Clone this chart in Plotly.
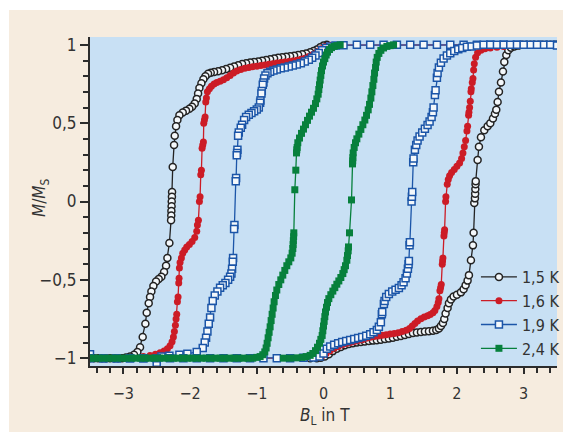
import plotly.graph_objects as go

# ---------------- tick labels ----------------
field_ticks = [-3, -2, -1, 0, 1, 2, 3]
field_tick_text = ["−3", "−2", "−1", "0", "1", "2", "3"]
m_ticks = [-1, -0.5, 0, 0.5, 1]
m_tick_text = ["−1", "−0,5", "0", "0,5", "1"]

temperatures = ["1,5 K", "1,6 K", "1,9 K", "2,4 K"]

# ---------------- data: (B in T, M/Ms) ----------------
# 1,5 K
down_15 = [(0.05, 1.0), (0.0, 0.995), (-0.05, 0.985), (-0.1, 0.97), (-0.15, 0.96), (-0.2, 0.952),
           (-0.26, 0.945), (-0.32, 0.94), (-0.38, 0.935), (-0.44, 0.93), (-0.5, 0.927), (-0.56, 0.924),
           (-0.62, 0.921), (-0.68, 0.918), (-0.74, 0.913), (-0.8, 0.908), (-0.86, 0.903), (-0.92, 0.898),
           (-0.98, 0.894), (-1.04, 0.89), (-1.1, 0.887), (-1.16, 0.883), (-1.22, 0.877), (-1.28, 0.87),
           (-1.34, 0.862), (-1.4, 0.853), (-1.46, 0.845), (-1.52, 0.838), (-1.58, 0.832), (-1.64, 0.827),
           (-1.69, 0.822), (-1.73, 0.815), (-1.77, 0.80), (-1.8, 0.78), (-1.83, 0.755), (-1.86, 0.725),
           (-1.88, 0.69), (-1.9, 0.655), (-1.93, 0.625), (-1.97, 0.605), (-2.01, 0.592), (-2.06, 0.58),
           (-2.11, 0.568), (-2.16, 0.55), (-2.19, 0.52), (-2.21, 0.48), (-2.23, 0.42), (-2.24, 0.36),
           (-2.26, 0.22), (-2.27, 0.06), (-2.272, 0.03), (-2.275, 0.0), (-2.277, -0.03), (-2.28, -0.06),
           (-2.282, -0.09), (-2.285, -0.12), (-2.31, -0.265), (-2.34, -0.36), (-2.36, -0.41),
           (-2.39, -0.45), (-2.43, -0.48), (-2.47, -0.495), (-2.51, -0.51), (-2.55, -0.54),
           (-2.58, -0.575), (-2.6, -0.61), (-2.62, -0.65), (-2.65, -0.71), (-2.67, -0.78),
           (-2.71, -0.865), (-2.75, -0.93), (-2.79, -0.96), (-2.84, -0.978), (-2.9, -0.99),
           (-2.96, -0.995), (-3.02, -1.0), (-3.08, -1.0), (-3.14, -1.0), (-3.2, -1.0), (-3.26, -1.0),
           (-3.32, -1.0), (-3.38, -1.0), (-3.44, -1.0), (-3.5, -1.0)]
up_15 = [(-0.2, -1.0), (-0.1, -1.0), (-0.04, -0.998), (0.02, -0.99), (0.08, -0.975), (0.14, -0.955),
         (0.2, -0.94), (0.26, -0.928), (0.32, -0.918), (0.38, -0.91), (0.44, -0.905), (0.5, -0.9),
         (0.56, -0.897), (0.62, -0.894), (0.68, -0.891), (0.74, -0.888), (0.8, -0.885), (0.86, -0.882),
         (0.92, -0.878), (0.98, -0.874), (1.04, -0.869), (1.1, -0.864), (1.16, -0.858), (1.22, -0.852),
         (1.28, -0.846), (1.34, -0.84), (1.4, -0.836), (1.46, -0.833), (1.52, -0.83), (1.58, -0.828),
         (1.64, -0.825), (1.69, -0.82), (1.73, -0.81), (1.76, -0.795), (1.79, -0.775), (1.81, -0.75),
         (1.83, -0.715), (1.86, -0.68), (1.88, -0.65), (1.91, -0.625), (1.95, -0.607), (2.0, -0.595),
         (2.06, -0.58), (2.1, -0.56), (2.13, -0.535), (2.16, -0.505), (2.18, -0.47), (2.21, -0.375),
         (2.24, -0.28), (2.25, -0.2), (2.26, -0.01), (2.27, 0.02), (2.273, 0.05), (2.276, 0.08),
         (2.279, 0.11), (2.282, 0.13), (2.31, 0.265), (2.33, 0.35), (2.36, 0.41), (2.41, 0.455),
         (2.46, 0.48), (2.5, 0.5), (2.54, 0.53), (2.57, 0.56), (2.59, 0.585), (2.61, 0.635),
         (2.63, 0.7), (2.66, 0.76), (2.69, 0.83), (2.71, 0.89), (2.74, 0.935), (2.77, 0.965),
         (2.81, 0.982), (2.86, 0.99), (2.92, 0.995), (2.98, 1.0), (3.04, 1.0), (3.1, 1.0), (3.16, 1.0),
         (3.22, 1.0), (3.28, 1.0), (3.34, 1.0), (3.4, 1.0), (3.46, 1.0), (3.5, 1.0)]

# 1,6 K
down_16 = [(3.5, 1.0), (3.3, 1.0), (3.1, 1.0), (2.9, 1.0), (2.7, 1.0), (2.5, 1.0), (2.3, 1.0), (2.1, 1.0),
           (1.9, 1.0), (1.7, 1.0), (1.5, 1.0), (1.3, 1.0), (1.1, 1.0), (0.9, 1.0), (0.7, 1.0), (0.5, 1.0),
           (0.3, 1.0), (0.1, 0.998), (0.02, 0.99), (-0.04, 0.975), (-0.1, 0.955), (-0.16, 0.938),
           (-0.22, 0.925), (-0.28, 0.915), (-0.34, 0.908), (-0.4, 0.902), (-0.46, 0.897), (-0.52, 0.893),
           (-0.58, 0.89), (-0.64, 0.887), (-0.7, 0.884), (-0.76, 0.88), (-0.82, 0.876), (-0.88, 0.872),
           (-0.94, 0.868), (-1.0, 0.864), (-1.06, 0.86), (-1.12, 0.855), (-1.18, 0.85), (-1.24, 0.843),
           (-1.3, 0.833), (-1.35, 0.82), (-1.4, 0.805), (-1.45, 0.79), (-1.5, 0.777), (-1.55, 0.768),
           (-1.6, 0.76), (-1.64, 0.75), (-1.68, 0.735), (-1.71, 0.72), (-1.74, 0.70), (-1.755, 0.66),
           (-1.765, 0.635), (-1.775, 0.54), (-1.785, 0.52), (-1.795, 0.50), (-1.8, 0.38), (-1.81, 0.36),
           (-1.82, 0.34), (-1.83, 0.2), (-1.84, 0.17), (-1.85, 0.03), (-1.86, 0.0), (-1.875, -0.12),
           (-1.89, -0.15), (-1.9, -0.19), (-1.93, -0.23), (-1.97, -0.255), (-2.01, -0.275),
           (-2.05, -0.29), (-2.08, -0.31), (-2.11, -0.33), (-2.13, -0.36), (-2.15, -0.39),
           (-2.16, -0.425), (-2.165, -0.49), (-2.17, -0.52), (-2.18, -0.61), (-2.19, -0.64),
           (-2.2, -0.72), (-2.21, -0.75), (-2.22, -0.79), (-2.235, -0.83), (-2.25, -0.865),
           (-2.27, -0.895), (-2.3, -0.92), (-2.34, -0.94), (-2.39, -0.955), (-2.45, -0.965),
           (-2.52, -0.975), (-2.6, -0.983), (-2.7, -0.99), (-2.9, -1.0), (-3.1, -1.0), (-3.3, -1.0),
           (-3.5, -1.0)]
up_16 = [(-3.5, -1.0), (-3.3, -1.0), (-3.1, -1.0), (-2.9, -1.0), (-2.7, -1.0), (-2.5, -1.0), (-2.3, -1.0),
         (-2.1, -1.0), (-1.9, -1.0), (-1.7, -1.0), (-1.5, -1.0), (-1.3, -1.0), (-1.1, -1.0), (-0.9, -1.0),
         (-0.7, -1.0), (-0.5, -1.0), (-0.3, -1.0), (-0.1, -0.995), (-0.02, -0.985), (0.04, -0.97),
         (0.1, -0.952), (0.16, -0.937), (0.22, -0.925), (0.28, -0.914), (0.34, -0.906), (0.4, -0.9),
         (0.46, -0.894), (0.52, -0.888), (0.58, -0.882), (0.64, -0.873), (0.7, -0.866), (0.76, -0.862),
         (0.82, -0.858), (0.88, -0.854), (0.94, -0.85), (1.0, -0.846), (1.06, -0.842), (1.12, -0.837),
         (1.18, -0.83), (1.24, -0.822), (1.29, -0.81), (1.33, -0.795), (1.37, -0.778), (1.41, -0.762),
         (1.46, -0.748), (1.51, -0.738), (1.56, -0.73), (1.6, -0.722), (1.64, -0.71), (1.67, -0.695),
         (1.7, -0.67), (1.72, -0.645), (1.73, -0.62), (1.745, -0.57), (1.755, -0.55), (1.765, -0.53),
         (1.78, -0.4), (1.785, -0.38), (1.79, -0.36), (1.805, -0.22), (1.81, -0.2), (1.815, -0.18),
         (1.83, 0.0), (1.835, 0.03), (1.855, 0.11), (1.87, 0.14), (1.89, 0.165), (1.92, 0.185),
         (1.96, 0.205), (2.0, 0.225), (2.04, 0.245), (2.07, 0.275), (2.09, 0.31), (2.11, 0.35),
         (2.13, 0.39), (2.15, 0.45), (2.16, 0.48), (2.175, 0.55), (2.18, 0.57), (2.19, 0.6),
         (2.2, 0.64), (2.21, 0.7), (2.215, 0.72), (2.23, 0.76), (2.24, 0.785), (2.25, 0.84),
         (2.26, 0.88), (2.28, 0.92), (2.31, 0.95), (2.36, 0.965), (2.42, 0.975), (2.5, 0.98),
         (2.6, 0.985), (2.7, 0.99), (2.9, 1.0), (3.1, 1.0), (3.3, 1.0), (3.5, 1.0)]

# 1,9 K
down_19 = [(3.5, 1.0), (3.3, 1.0), (3.1, 1.0), (2.9, 1.0), (2.7, 1.0), (2.5, 1.0), (2.3, 1.0), (2.1, 1.0),
           (1.9, 1.0), (1.7, 1.0), (1.5, 1.0), (1.3, 1.0), (1.1, 1.0), (0.9, 1.0), (0.7, 1.0), (0.5, 1.0),
           (0.3, 0.998), (0.18, 0.995), (0.1, 0.99), (0.04, 0.98), (-0.02, 0.965), (-0.07, 0.948),
           (-0.12, 0.932), (-0.17, 0.918), (-0.22, 0.905), (-0.28, 0.893), (-0.34, 0.883), (-0.4, 0.875),
           (-0.46, 0.868), (-0.52, 0.862), (-0.58, 0.856), (-0.64, 0.85), (-0.7, 0.843), (-0.75, 0.836),
           (-0.8, 0.828), (-0.84, 0.818), (-0.87, 0.805), (-0.89, 0.785), (-0.9, 0.76), (-0.91, 0.745),
           (-0.925, 0.705), (-0.93, 0.69), (-0.945, 0.645), (-0.95, 0.63), (-0.97, 0.6), (-1.0, 0.587),
           (-1.04, 0.576), (-1.08, 0.565), (-1.12, 0.553), (-1.16, 0.54), (-1.19, 0.52), (-1.22, 0.49),
           (-1.24, 0.47), (-1.27, 0.44), (-1.28, 0.42), (-1.29, 0.33), (-1.295, 0.31), (-1.3, 0.295),
           (-1.31, 0.15), (-1.315, 0.13), (-1.335, -0.15), (-1.34, -0.175), (-1.355, -0.36),
           (-1.36, -0.385), (-1.37, -0.43), (-1.38, -0.46), (-1.4, -0.48), (-1.43, -0.5), (-1.47, -0.52),
           (-1.51, -0.535), (-1.55, -0.55), (-1.59, -0.575), (-1.63, -0.6), (-1.66, -0.635),
           (-1.68, -0.68), (-1.7, -0.74), (-1.72, -0.78), (-1.74, -0.83), (-1.76, -0.87), (-1.78, -0.9),
           (-1.81, -0.935), (-1.9, -0.96), (-2.04, -0.972), (-2.16, -0.978), (-2.31, -0.985),
           (-2.43, -0.99), (-2.5, -1.03), (-2.7, -1.0), (-2.9, -1.0), (-3.1, -1.0), (-3.3, -1.0),
           (-3.5, -0.975)]
up_19 = [(-3.5, -1.0), (-3.3, -1.0), (-3.1, -1.0), (-2.9, -1.0), (-2.7, -1.0), (-2.5, -1.0), (-2.3, -1.0),
         (-2.1, -1.0), (-1.9, -1.0), (-1.7, -1.0), (-1.5, -1.0), (-1.3, -1.0), (-1.1, -1.0), (-0.9, -1.0),
         (-0.7, -1.0), (-0.5, -1.0), (-0.3, -0.998), (-0.15, -0.995), (-0.06, -0.99), (0.0, -0.97),
         (0.05, -0.94), (0.1, -0.925), (0.16, -0.915), (0.22, -0.905), (0.28, -0.897), (0.34, -0.89),
         (0.4, -0.884), (0.46, -0.878), (0.52, -0.872), (0.58, -0.865), (0.64, -0.857), (0.7, -0.847),
         (0.75, -0.835), (0.8, -0.82), (0.83, -0.8), (0.86, -0.77), (0.875, -0.72), (0.88, -0.705),
         (0.905, -0.655), (0.915, -0.635), (0.94, -0.61), (0.98, -0.59), (1.03, -0.575), (1.08, -0.563),
         (1.13, -0.552), (1.17, -0.535), (1.2, -0.515), (1.23, -0.49), (1.25, -0.46), (1.265, -0.43),
         (1.275, -0.4), (1.28, -0.38), (1.29, -0.28), (1.295, -0.26), (1.32, 0.0), (1.325, 0.03),
         (1.33, 0.06), (1.345, 0.25), (1.35, 0.275), (1.37, 0.33), (1.39, 0.36), (1.41, 0.39),
         (1.44, 0.415), (1.48, 0.44), (1.52, 0.465), (1.56, 0.488), (1.59, 0.51), (1.62, 0.54),
         (1.64, 0.57), (1.65, 0.6), (1.67, 0.68), (1.68, 0.71), (1.7, 0.79), (1.71, 0.82),
         (1.73, 0.855), (1.76, 0.885), (1.8, 0.912), (1.85, 0.932), (1.9, 0.946), (1.96, 0.96),
         (2.02, 0.972), (2.08, 0.98), (2.15, 0.987), (2.22, 0.99), (2.3, 0.995), (2.4, 1.0),
         (2.5, 1.0), (2.6, 1.0), (2.7, 1.0), (2.8, 1.0), (2.9, 1.0), (3.0, 1.0), (3.2, 1.0),
         (3.4, 1.0), (3.5, 0.995)]

# 2,4 K
down_24 = [(0.25, 1.0), (0.2, 0.995), (0.16, 0.99), (0.12, 0.982), (0.09, 0.97), (0.06, 0.953),
           (0.04, 0.935), (0.02, 0.912), (0.0, 0.89), (-0.015, 0.865), (-0.03, 0.835), (-0.04, 0.805),
           (-0.05, 0.775), (-0.06, 0.745), (-0.07, 0.715), (-0.08, 0.685), (-0.1, 0.655), (-0.12, 0.625),
           (-0.15, 0.595), (-0.18, 0.57), (-0.21, 0.545), (-0.24, 0.518), (-0.27, 0.49), (-0.3, 0.462),
           (-0.33, 0.435), (-0.36, 0.405), (-0.385, 0.375), (-0.395, 0.345), (-0.4, 0.33),
           (-0.405, 0.31), (-0.415, 0.2), (-0.43, 0.075), (-0.445, -0.2), (-0.448, -0.225),
           (-0.452, -0.25), (-0.455, -0.275), (-0.46, -0.3), (-0.47, -0.33), (-0.49, -0.36),
           (-0.52, -0.385), (-0.55, -0.41), (-0.58, -0.44), (-0.61, -0.47), (-0.64, -0.5),
           (-0.67, -0.53), (-0.7, -0.565), (-0.72, -0.6), (-0.74, -0.64), (-0.755, -0.68),
           (-0.77, -0.72), (-0.785, -0.76), (-0.8, -0.8), (-0.815, -0.835), (-0.83, -0.87),
           (-0.845, -0.905), (-0.86, -0.935), (-0.88, -0.96), (-0.91, -0.978), (-0.95, -0.99),
           (-1.0, -0.995), (-1.06, -1.0), (-1.13, -1.0), (-1.2, -1.0), (-1.27, -1.0), (-1.34, -1.0),
           (-1.41, -1.0), (-1.48, -1.0), (-1.55, -1.0), (-1.62, -1.0), (-1.69, -1.0), (-1.76, -1.0),
           (-1.83, -1.0), (-1.9, -1.0), (-1.97, -1.0), (-2.04, -1.0), (-2.11, -1.0), (-2.18, -1.0),
           (-2.25, -1.0), (-2.32, -1.0), (-2.39, -1.0), (-2.46, -1.0), (-2.53, -1.0), (-2.6, -1.0),
           (-2.67, -1.0), (-2.74, -1.0), (-2.81, -1.0), (-2.88, -1.0), (-2.95, -1.0), (-3.02, -1.0),
           (-3.09, -1.0), (-3.16, -1.0), (-3.23, -1.0), (-3.3, -1.0), (-3.37, -1.0), (-3.44, -1.0),
           (-3.5, -1.0)]
up_24 = [(-0.6, -1.0), (-0.5, -1.0), (-0.4, -0.998), (-0.32, -0.995), (-0.26, -0.99), (-0.2, -0.982),
         (-0.16, -0.97), (-0.12, -0.952), (-0.09, -0.93), (-0.06, -0.905), (-0.04, -0.88),
         (-0.02, -0.855), (-0.01, -0.825), (0.0, -0.795), (0.01, -0.765), (0.02, -0.735),
         (0.03, -0.705), (0.045, -0.675), (0.06, -0.645), (0.08, -0.62), (0.11, -0.595),
         (0.14, -0.572), (0.17, -0.55), (0.2, -0.528), (0.23, -0.507), (0.26, -0.485), (0.29, -0.46),
         (0.31, -0.435), (0.33, -0.41), (0.35, -0.375), (0.36, -0.345), (0.37, -0.315),
         (0.375, -0.29), (0.39, -0.2), (0.42, 0.01), (0.435, 0.24), (0.438, 0.26), (0.44, 0.28),
         (0.445, 0.31), (0.46, 0.345), (0.48, 0.375), (0.5, 0.4), (0.53, 0.43), (0.56, 0.46),
         (0.59, 0.49), (0.62, 0.52), (0.645, 0.55), (0.67, 0.585), (0.69, 0.62), (0.71, 0.66),
         (0.725, 0.7), (0.74, 0.74), (0.755, 0.78), (0.765, 0.82), (0.78, 0.855), (0.79, 0.89),
         (0.805, 0.92), (0.83, 0.945), (0.86, 0.965), (0.9, 0.98), (0.95, 0.99), (1.0, 0.995),
         (1.05, 1.0)]

branches = [(down_15, up_15), (down_16, up_16), (down_19, up_19), (down_24, up_24)]

x_title = "<i>B</i><sub>L</sub> in T"
y_title = "<i>M</i>/<i>M</i><sub>S</sub>"

# ---------------- styles ----------------
line_colors = ["#232323", "#cc1c26", "#1b55a8", "#07803c"]
marker_symbols = ["circle", "circle", "square", "square"]
marker_fills = ["#f4f8fb", "#cc1c26", "#f4f8fb", "#07803c"]
marker_sizes = [7, 7, 7, 7]
marker_line_widths = [1.5, 0, 1.5, 0]

FONT = "Liberation Sans Narrow, DejaVu Sans Condensed, Arial Narrow, sans-serif"
AXIS_COLOR = "#2c2c2c"
TEXT_COLOR = "#333333"

fig = go.Figure()
for i, (down, up) in enumerate(branches):
    xs = [p[0] for p in down] + [None] + [p[0] for p in up]
    ys = [p[1] for p in down] + [None] + [p[1] for p in up]
    fig.add_trace(go.Scatter(
        x=xs, y=ys, mode="lines+markers", name=temperatures[i],
        legendgroup=temperatures[i],
        line=dict(color=line_colors[i], width=1.3),
        marker=dict(symbol=marker_symbols[i], size=marker_sizes[i], color=marker_fills[i],
                    line=dict(color=line_colors[i], width=marker_line_widths[i])),
        connectgaps=False,
    ))

# The page body has an 8 px margin, so the figure is 8 px smaller than the window
OFF = 8
W, H = 571 - OFF, 432 - OFF
L, R, T, B = 90 - OFF, 14, 37 - OFF, 66
pw, ph = W - L - R, H - T - B

def px_x(px):
    return (px - OFF - L) / pw

def px_y(py):
    return (H - B - (py - OFF)) / ph

fig.update_layout(
    width=W, height=H,
    margin=dict(l=L, r=R, t=T, b=B, autoexpand=False),
    paper_bgcolor="#f6ecdf",
    plot_bgcolor="#c8e0f4",
    font=dict(family=FONT, size=16, color=TEXT_COLOR),
    shapes=[
        dict(type="rect", xref="paper", yref="paper", layer="below",
             x0=px_x(0), x1=px_x(9), y0=px_y(440), y1=px_y(0),
             fillcolor="white", line=dict(width=0)),
        dict(type="rect", xref="paper", yref="paper", layer="below",
             x0=px_x(0), x1=px_x(580), y0=px_y(10), y1=px_y(0),
             fillcolor="white", line=dict(width=0)),
    ],
    annotations=[
        dict(text=x_title, xref="paper", yref="paper", x=px_x(325), y=px_y(416),
             xanchor="center", yanchor="middle", showarrow=False,
             font=dict(family=FONT, size=17, color=TEXT_COLOR)),
        dict(text=y_title, xref="paper", yref="paper", x=px_x(40), y=px_y(198),
             xanchor="center", yanchor="middle", showarrow=False, textangle=-90,
             font=dict(family=FONT, size=17, color=TEXT_COLOR)),
    ],
    showlegend=True,
    legend=dict(x=1.017, xanchor="right", y=0.0, yanchor="bottom",
                bgcolor="rgba(0,0,0,0)", font=dict(family=FONT, size=16, color=TEXT_COLOR),
                traceorder="grouped", tracegroupgap=0, itemwidth=36),
)

fig.update_xaxes(
    automargin=False,
    range=[-3.5, 3.5], tickvals=field_ticks, ticktext=field_tick_text,
    showgrid=False, zeroline=False, showline=True, linecolor=AXIS_COLOR, linewidth=2,
    ticks="outside", ticklen=6, tickwidth=1.5, tickcolor=AXIS_COLOR, ticklabelstandoff=6,
    tickfont=dict(family=FONT, size=16, color=TEXT_COLOR),
    minor=dict(dtick=0.2, tick0=0, ticks="outside", ticklen=5, tickwidth=1.5, tickcolor=AXIS_COLOR,
               showgrid=False),
)
fig.update_yaxes(
    automargin=False,
    range=[-1.05, 1.05], tickvals=m_ticks, ticktext=m_tick_text,
    showgrid=False, zeroline=False, showline=True, linecolor=AXIS_COLOR, linewidth=2,
    ticks="outside", ticklen=8, tickwidth=1.5, tickcolor=AXIS_COLOR,
    tickfont=dict(family=FONT, size=17, color=TEXT_COLOR),
    minor=dict(dtick=0.1, tick0=0, ticks="outside", ticklen=5, tickwidth=1.5, tickcolor=AXIS_COLOR,
               showgrid=False),
)

fig.write_html("out.html")
